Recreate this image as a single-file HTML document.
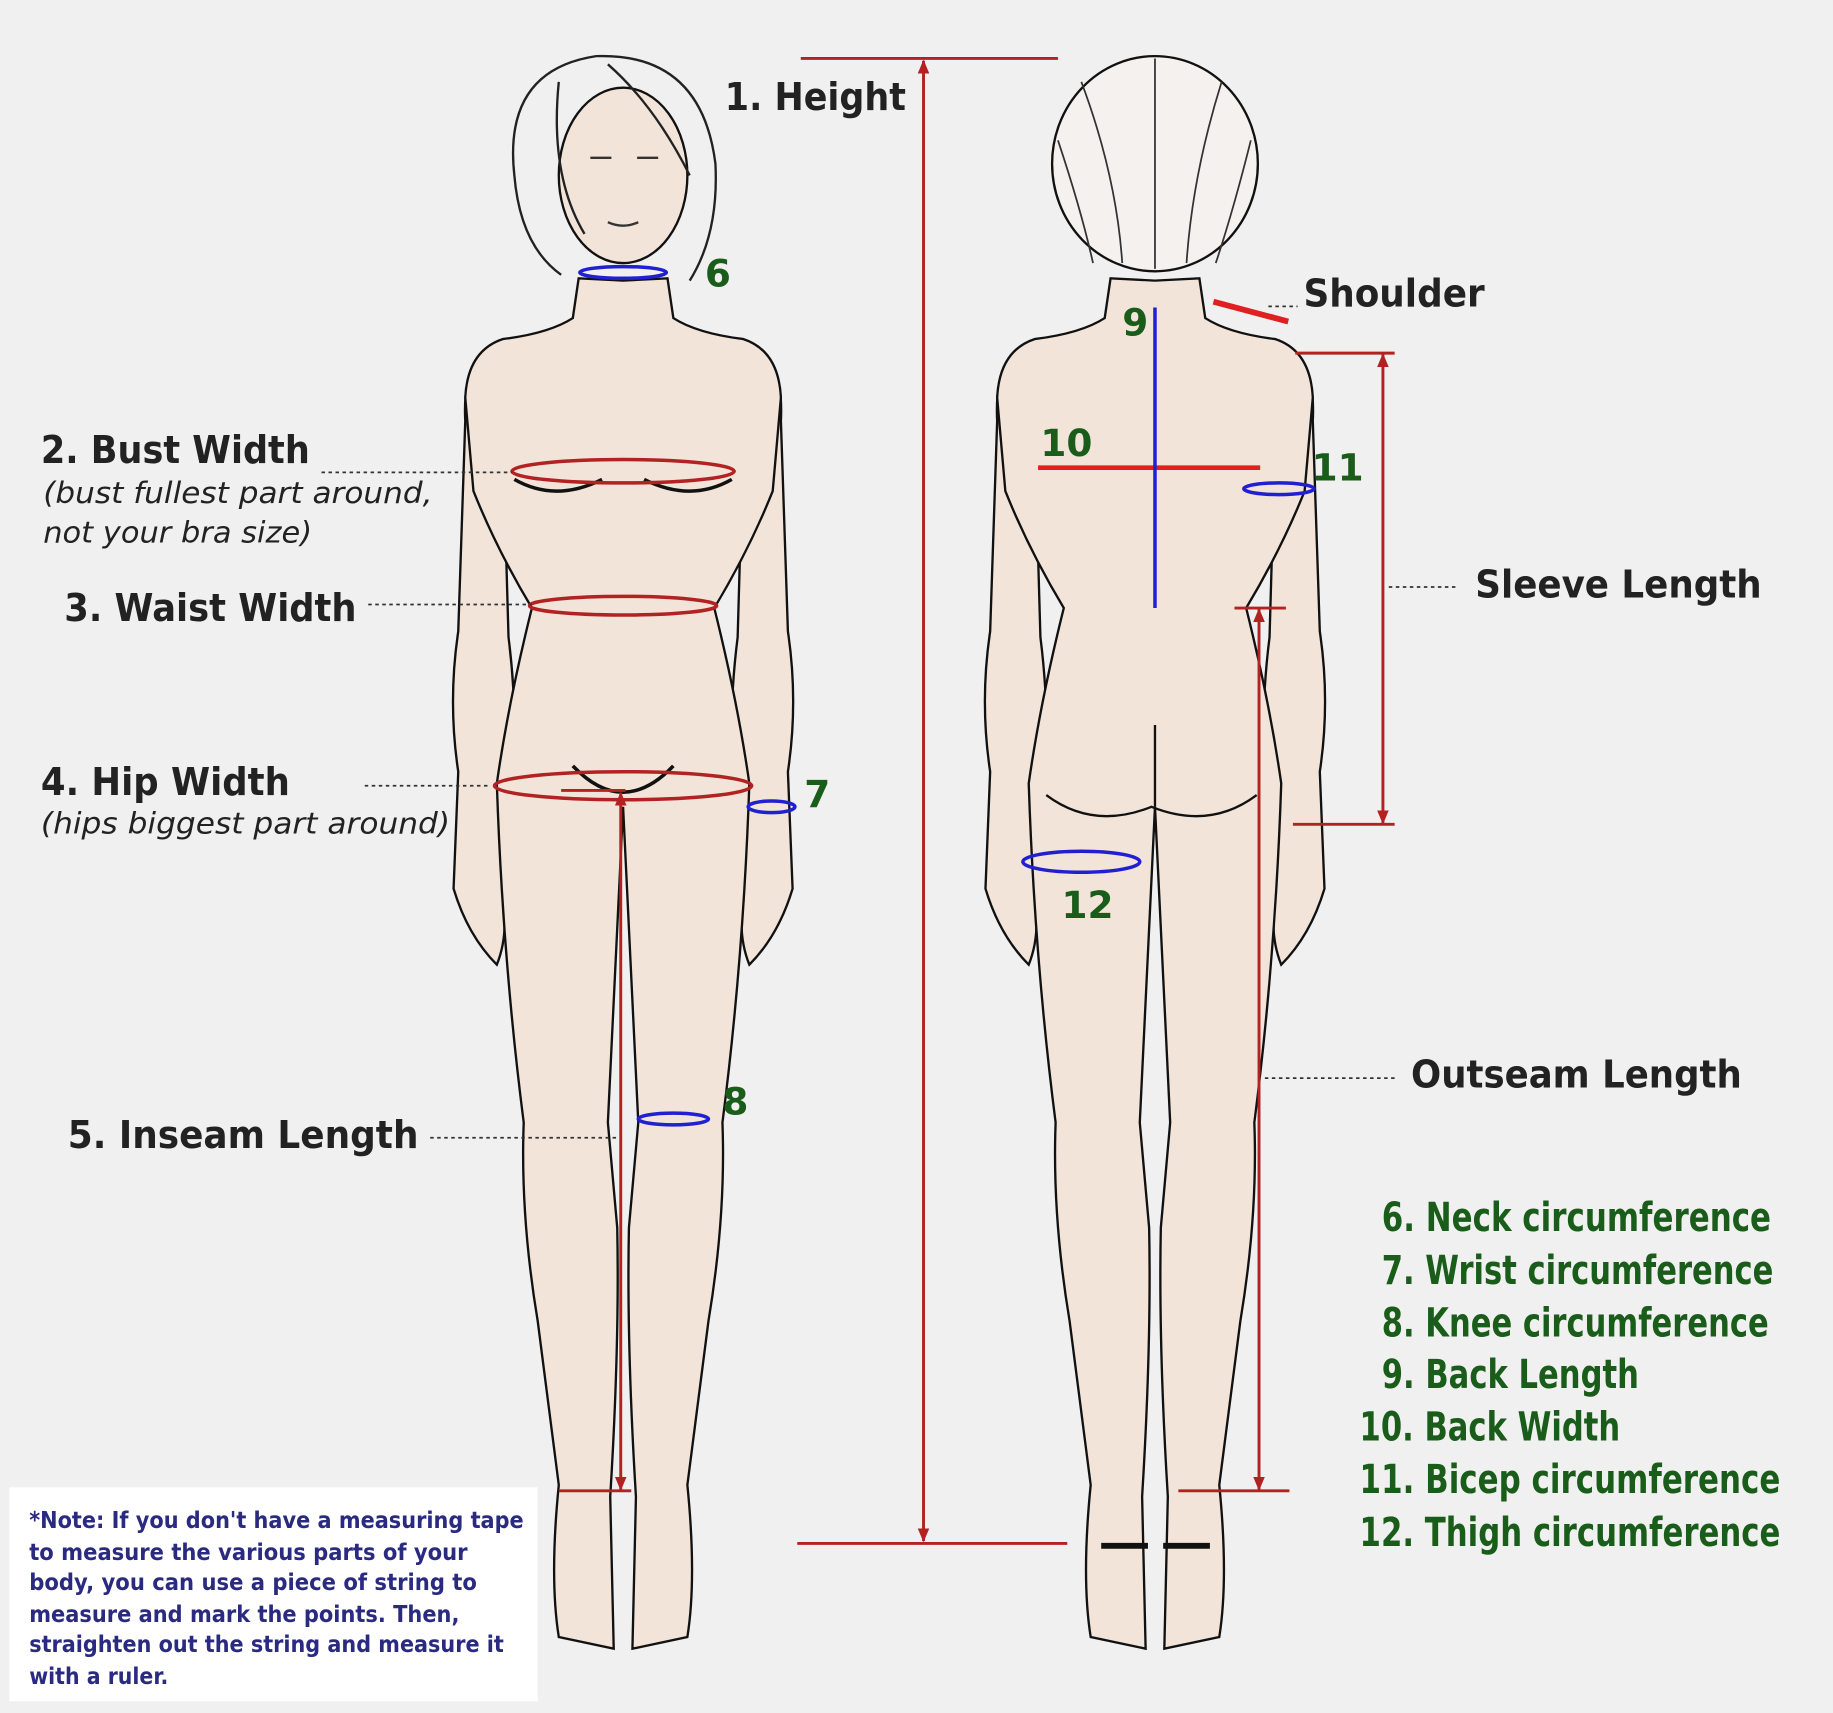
<!DOCTYPE html>
<html><head><meta charset="utf-8"><style>
html,body{margin:0;padding:0;background:#f0f0f0;}
svg{display:block}
text{font-family:"DejaVu Sans","Liberation Sans",sans-serif}
</style></head><body>
<svg width="1833" height="1713" viewBox="0 0 1568 1465" preserveAspectRatio="none" xmlns="http://www.w3.org/2000/svg">
<rect width="1568" height="1465" fill="#f0f0f0"/>
<defs>
<marker id="a" markerWidth="12" markerHeight="10" refX="11" refY="5" orient="auto-start-reverse" markerUnits="userSpaceOnUse"><path d="M0,0 L12,5 L0,10 Z" fill="#b22222"/></marker>
</defs>

<g>
 <g fill="#f2e4d8" stroke="#111" stroke-width="2">
  <path d="M430,292 Q395,300 398,360 L392,540 Q383,600 392,660 L388,760 Q400,800 425,825 Q435,800 430,770 L440,660 Q442,600 435,545 L432,440 Z"/>
  <path d="M636,292 Q671,300 668,360 L674,540 Q683,600 674,660 L678,760 Q666,800 641,825 Q631,800 636,770 L626,660 Q624,600 631,545 L634,440 Z"/>
 </g>
 <path d="M533,240 L495,238 L490,272 Q470,285 430,290 Q400,300 398,340 L405,420 Q425,470 455,520 Q435,600 425,670 Q430,820 448,960 Q445,1040 460,1130 L478,1270 Q470,1350 478,1400 L525,1410 L522,1280 Q530,1150 528,1050 L520,960 L533,690 L546,960 L538,1050 Q536,1150 544,1280 L541,1410 L588,1400 Q596,1350 588,1270 L606,1130 Q621,1040 618,960 Q636,820 641,670 Q631,600 611,520 Q641,470 661,420 L668,340 Q666,300 636,290 Q596,285 576,272 L571,238 Z" fill="#f2e4d8" stroke="#111" stroke-width="2"/>
 <path d="M440,410 Q475,430 515,410 M551,410 Q591,430 626,410" stroke="#111" stroke-width="3" fill="none"/>
 <path d="M490,655 Q533,700 576,655" stroke="#111" stroke-width="3" fill="none"/>
 <ellipse cx="533" cy="150" rx="55" ry="75" fill="#f2e4d8" stroke="#111" stroke-width="2"/>
 <path d="M440,150 Q430,60 510,48 Q600,45 612,140 Q615,200 590,240 M440,150 Q445,210 480,235 M478,70 Q470,150 500,200 M520,55 Q560,90 590,150" stroke="#222" stroke-width="2" fill="none"/>
 <path d="M505,135 l18,0 M545,135 l18,0 M520,190 q13,6 26,0" stroke="#333" stroke-width="2" fill="none"/>
</g>

<g transform="translate(455,0)">
 <g fill="#f2e4d8" stroke="#111" stroke-width="2">
  <path d="M430,292 Q395,300 398,360 L392,540 Q383,600 392,660 L388,760 Q400,800 425,825 Q435,800 430,770 L440,660 Q442,600 435,545 L432,440 Z"/>
  <path d="M636,292 Q671,300 668,360 L674,540 Q683,600 674,660 L678,760 Q666,800 641,825 Q631,800 636,770 L626,660 Q624,600 631,545 L634,440 Z"/>
 </g>
 <path d="M533,240 L495,238 L490,272 Q470,285 430,290 Q400,300 398,340 L405,420 Q425,470 455,520 Q435,600 425,670 Q430,820 448,960 Q445,1040 460,1130 L478,1270 Q470,1350 478,1400 L525,1410 L522,1280 Q530,1150 528,1050 L520,960 L533,690 L546,960 L538,1050 Q536,1150 544,1280 L541,1410 L588,1400 Q596,1350 588,1270 L606,1130 Q621,1040 618,960 Q636,820 641,670 Q631,600 611,520 Q641,470 661,420 L668,340 Q666,300 636,290 Q596,285 576,272 L571,238 Z" fill="#f2e4d8" stroke="#111" stroke-width="2"/>
 <path d="M533,620 L533,690 M440,680 Q480,710 530,690 Q580,710 620,680" stroke="#111" stroke-width="2" fill="none"/>
 <path d="M487,1322 l40,0 M540,1322 l40,0" stroke="#111" stroke-width="5"/>
 <ellipse cx="533" cy="140" rx="88" ry="92" fill="#f4f1ee" stroke="#111" stroke-width="2"/>
 <path d="M470,70 Q500,150 505,225 M533,50 L533,230 M590,70 Q565,150 560,225 M450,120 Q470,180 480,225 M615,120 Q600,180 585,225" stroke="#333" stroke-width="1.5" fill="none"/>
</g>

<g stroke="#b22222" stroke-width="2.5" fill="none">
 <line x1="685" y1="50" x2="905" y2="50"/>
 <line x1="682" y1="1320" x2="913" y2="1320"/>
 <line x1="790" y1="52" x2="790" y2="1318" marker-start="url(#a)" marker-end="url(#a)"/>
 <line x1="480" y1="676" x2="535" y2="676"/>
 <line x1="478" y1="1275" x2="540" y2="1275"/>
 <line x1="531" y1="678" x2="531" y2="1274" marker-start="url(#a)" marker-end="url(#a)"/>
 <line x1="1108" y1="302" x2="1193" y2="302"/>
 <line x1="1106" y1="705" x2="1193" y2="705"/>
 <line x1="1183" y1="303" x2="1183" y2="704" marker-start="url(#a)" marker-end="url(#a)"/>
 <line x1="1056" y1="520" x2="1100" y2="520"/>
 <line x1="1008" y1="1275" x2="1103" y2="1275"/>
 <line x1="1077" y1="521" x2="1077" y2="1274" marker-start="url(#a)" marker-end="url(#a)"/>
 <ellipse cx="533" cy="403" rx="95" ry="10" stroke-width="3"/>
 <ellipse cx="533" cy="518" rx="80" ry="8" stroke-width="3"/>
 <ellipse cx="533" cy="672" rx="110" ry="12" stroke-width="3"/>
</g>
<line x1="888" y1="400" x2="1078" y2="400" stroke="#e02020" stroke-width="4"/>
<line x1="1038" y1="258" x2="1102" y2="275" stroke="#e02020" stroke-width="5"/>
<line x1="988" y1="263" x2="988" y2="520" stroke="#2020d0" stroke-width="3"/>
<g stroke="#2020d0" stroke-width="3" fill="none">
 <ellipse cx="533" cy="233" rx="37" ry="5"/>
 <ellipse cx="660" cy="690" rx="20" ry="5"/>
 <ellipse cx="576" cy="957" rx="30" ry="5"/>
 <ellipse cx="1094" cy="418" rx="30" ry="5"/>
 <ellipse cx="925" cy="737" rx="50" ry="9"/>
</g>
<g stroke="#333" stroke-width="1.5" stroke-dasharray="3,3">
 <line x1="275" y1="404" x2="438" y2="404"/>
 <line x1="315" y1="517" x2="455" y2="517"/>
 <line x1="312" y1="672" x2="420" y2="672"/>
 <line x1="368" y1="973" x2="528" y2="973"/>
 <line x1="1085" y1="262" x2="1110" y2="262"/>
 <line x1="1188" y1="502" x2="1245" y2="502"/>
 <line x1="1082" y1="922" x2="1195" y2="922"/>
</g>

<g fill="#222" font-size="33" font-weight="bold" lengthAdjust="spacingAndGlyphs">
 <text x="620" y="94" textLength="155" lengthAdjust="spacingAndGlyphs">1. Height</text>
 <text x="35" y="396" textLength="230" lengthAdjust="spacingAndGlyphs">2. Bust Width</text>
 <text x="55" y="531" textLength="250" lengthAdjust="spacingAndGlyphs">3. Waist Width</text>
 <text x="35" y="680" textLength="213" lengthAdjust="spacingAndGlyphs">4. Hip Width</text>
 <text x="58" y="982" textLength="300" lengthAdjust="spacingAndGlyphs">5. Inseam Length</text>
 <text x="1115" y="262" textLength="155" lengthAdjust="spacingAndGlyphs">Shoulder</text>
 <text x="1262" y="511" textLength="245" lengthAdjust="spacingAndGlyphs">Sleeve Length</text>
 <text x="1207" y="930" textLength="283" lengthAdjust="spacingAndGlyphs">Outseam Length</text>
</g>
<g fill="#222" font-size="25" font-style="italic">
 <text x="37" y="430" textLength="333" lengthAdjust="spacingAndGlyphs">(bust fullest part around,</text>
 <text x="37" y="464" textLength="230" lengthAdjust="spacingAndGlyphs">not your bra size)</text>
 <text x="35" y="713" textLength="350" lengthAdjust="spacingAndGlyphs">(hips biggest part around)</text>
</g>
<g fill="#1a5c1a" font-size="32" font-weight="bold" style="font-family:'Liberation Sans',sans-serif">
 <text x="603" y="245">6</text>
 <text x="688" y="690">7</text>
 <text x="618" y="953">8</text>
 <text x="960" y="287">9</text>
 <text x="890" y="390">10</text>
 <text x="1122" y="411">11</text>
 <text x="908" y="785">12</text>
</g>
<g fill="#1a5c1a" font-size="34" font-weight="bold" style="font-family:'Liberation Sans',sans-serif">
 <text x="1182" y="1053" textLength="333" lengthAdjust="spacingAndGlyphs">6. Neck circumference</text>
 <text x="1182" y="1098" textLength="335" lengthAdjust="spacingAndGlyphs">7. Wrist circumference</text>
 <text x="1182" y="1143" textLength="331" lengthAdjust="spacingAndGlyphs">8. Knee circumference</text>
 <text x="1182" y="1187" textLength="220" lengthAdjust="spacingAndGlyphs">9. Back Length</text>
 <text x="1163" y="1232" textLength="223" lengthAdjust="spacingAndGlyphs">10. Back Width</text>
 <text x="1163" y="1277" textLength="360" lengthAdjust="spacingAndGlyphs">11. Bicep circumference</text>
 <text x="1163" y="1322" textLength="360" lengthAdjust="spacingAndGlyphs">12. Thigh circumference</text>
</g>

<rect x="8" y="1272" width="452" height="183" fill="#fff"/>
<g fill="#2a2a80" font-size="20" font-weight="bold" style="font-family:'Liberation Sans',sans-serif">
 <text x="25" y="1307" textLength="423" lengthAdjust="spacingAndGlyphs">*Note: If you don't have a measuring tape</text>
 <text x="25" y="1334" textLength="375" lengthAdjust="spacingAndGlyphs">to measure the various parts of your</text>
 <text x="25" y="1360" textLength="383" lengthAdjust="spacingAndGlyphs">body, you can use a piece of string to</text>
 <text x="25" y="1387" textLength="368" lengthAdjust="spacingAndGlyphs">measure and mark the points. Then,</text>
 <text x="25" y="1413" textLength="406" lengthAdjust="spacingAndGlyphs">straighten out the string and measure it</text>
 <text x="25" y="1440" textLength="119" lengthAdjust="spacingAndGlyphs">with a ruler.</text>
</g>
</svg>
</body></html>
